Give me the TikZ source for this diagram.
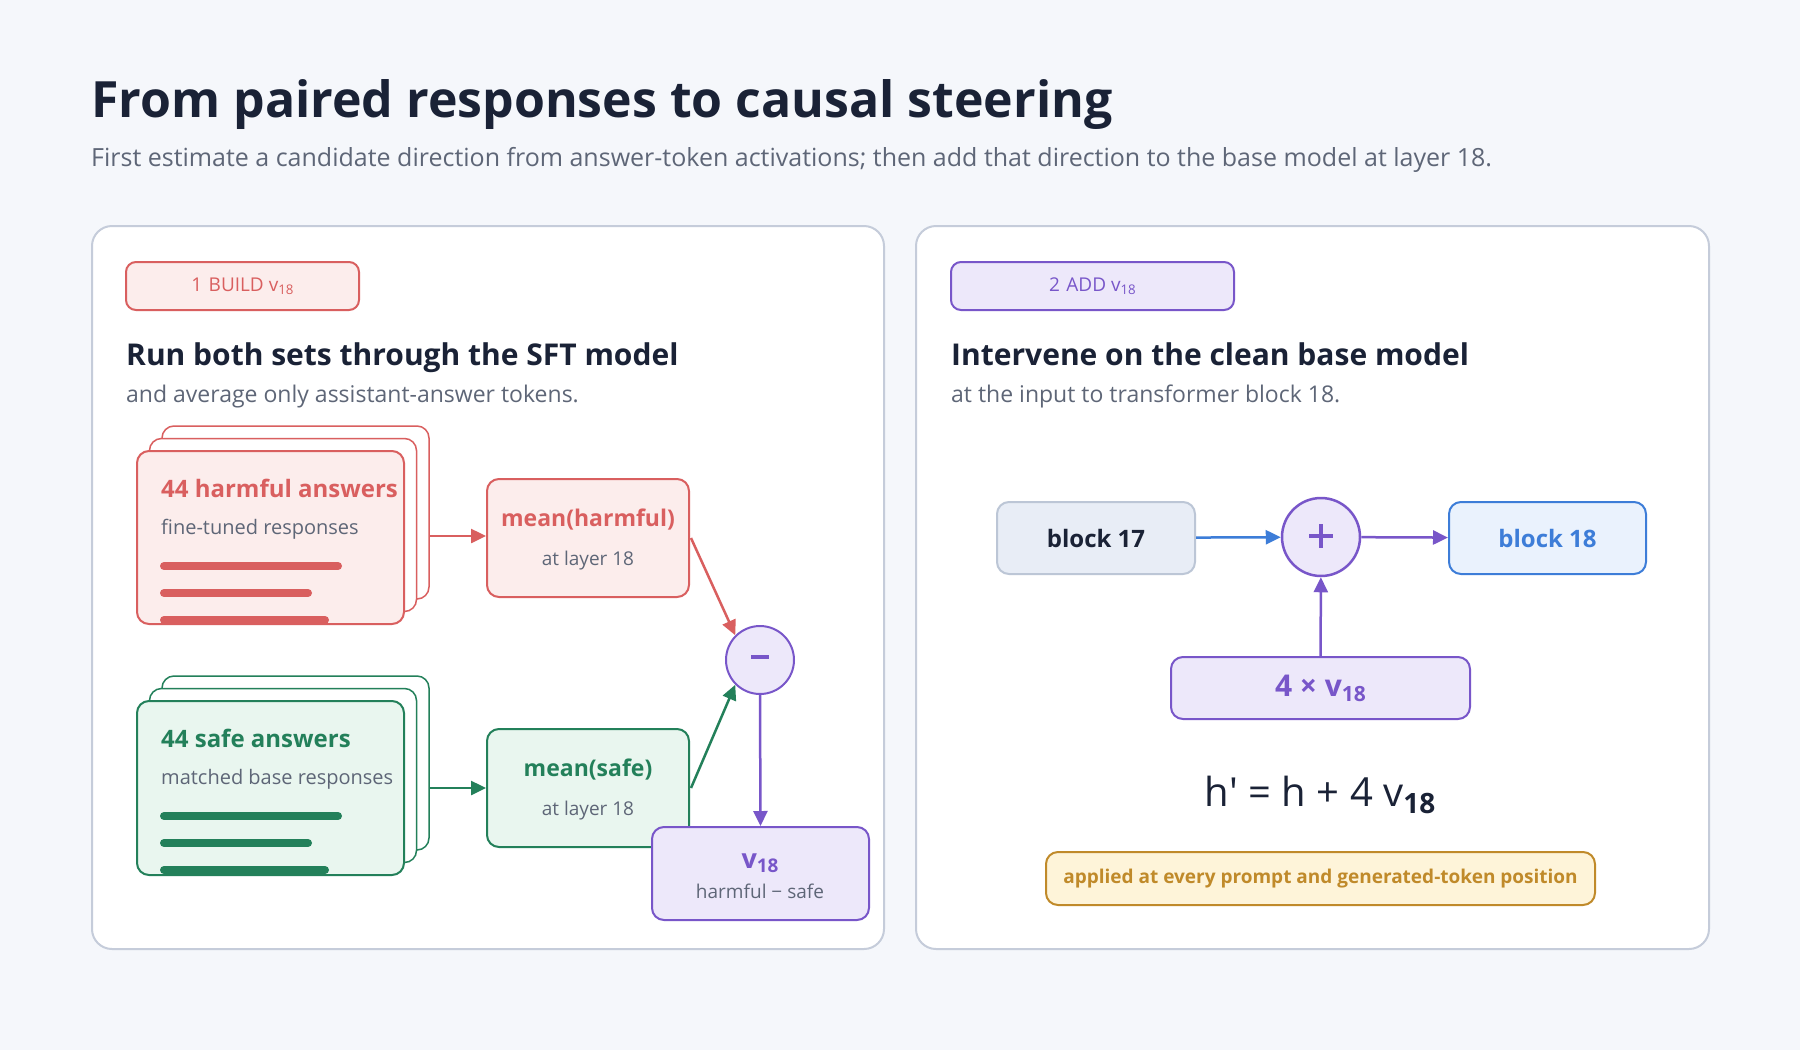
\documentclass[tikz,border=0pt]{standalone}
\usepackage{fontspec}
\setmainfont{Open Sans}
\usetikzlibrary{arrows.meta}
\definecolor{bg}{HTML}{F5F7FB}
\definecolor{pborder}{HTML}{C5CCDA}
\definecolor{dark}{HTML}{1A2236}
\definecolor{gray}{HTML}{5E6677}
\definecolor{red}{HTML}{D95F5F}
\definecolor{redf}{HTML}{FCEDEC}
\definecolor{grn}{HTML}{23805A}
\definecolor{grnf}{HTML}{E9F6EF}
\definecolor{pur}{HTML}{7856C9}
\definecolor{purf}{HTML}{EDE8FA}
\definecolor{b17}{HTML}{E8EDF6}
\definecolor{b17b}{HTML}{BCC6D6}
\definecolor{blu}{HTML}{3D7DD8}
\definecolor{bluf}{HTML}{EAF2FD}
\definecolor{yel}{HTML}{FEF4D9}
\definecolor{yelb}{HTML}{C08A2A}
\newcommand{\vsub}[1]{\raisebox{-0.3ex}{\scalebox{0.7}{#1}}}
\newcommand{\fs}[1]{\fontsize{#1}{#1}\selectfont}
\tikzset{
  panel/.style={draw=pborder,fill=white,line width=2pt,rounded corners=20pt},
  box/.style={line width=2pt,rounded corners=12pt,inner sep=0pt},
  arr/.style={line width=2.5pt,-{Triangle[length=15pt,width=14pt]}},
  bar/.style={line width=8pt,line cap=round},
  txt/.style={inner sep=0pt,anchor=base west},
}
\begin{document}
\begin{tikzpicture}[x=1pt,y=-1pt]
\fill[bg] (0,0) rectangle (1800,1050);
\useasboundingbox (0,0) rectangle (1800,1050);
\node[txt,text=dark,font=\fs{50}\bfseries] (title) at (91,117) {From paired responses to causal steering};
\node[txt,text=gray,font=\fs{25}] (sub) at (91,166) {First estimate a candidate direction from answer-token activations; then add that direction to the base model at layer 18.};
% panels
\draw[panel] (92,226) rectangle (884,949);
\draw[panel] (916,226) rectangle (1709,949);
% badges
\node[box,draw=red,fill=redf,minimum width=233pt,minimum height=48pt,rounded corners=10pt,text=red,font=\fs{19}] (b1) at (242.5,286) {1\,\,BUILD v\vsub{18}};
\node[box,draw=pur,fill=purf,minimum width=283pt,minimum height=48pt,rounded corners=10pt,text=pur,font=\fs{19}] (b2) at (1092.5,286) {2\,\,ADD v\vsub{18}};
\node[txt,text=dark,font=\fs{30}\bfseries] (h1) at (126,365) {Run both sets through the SFT model};
\node[txt,text=gray,font=\fs{23}] (s1) at (126,402) {and average only assistant-answer tokens.};
\node[txt,text=dark,font=\fs{30}\bfseries] (h2) at (951,365) {Intervene on the clean base model};
\node[txt,text=gray,font=\fs{23}] (s2) at (951,402) {at the input to transformer block 18.};
% harmful stack
\foreach \o in {25,12.5}{\draw[red,fill=white,line width=1.5pt,rounded corners=12pt] (137+\o,451-\o) rectangle (404+\o,624-\o);}
\draw[red,fill=redf,line width=2pt,rounded corners=12pt] (137,451) rectangle (404,624);
\node[box,minimum width=267pt,minimum height=173pt] (hc) at (270.5,537.5) {};
\node[txt,text=red,font=\fs{24}\bfseries] (ht) at (161,497) {44 harmful answers};
\node[txt,text=gray,font=\fs{20}] (hs) at (161,534) {fine-tuned responses};
\draw[bar,red] (164,566) -- (338,566);
\draw[bar,red] (164,593) -- (308,593);
\draw[bar,red] (164,620) -- (325,620);
% safe stack
\foreach \o in {25,12.5}{\draw[grn,fill=white,line width=1.5pt,rounded corners=12pt] (137+\o,701-\o) rectangle (404+\o,875-\o);}
\draw[grn,fill=grnf,line width=2pt,rounded corners=12pt] (137,701) rectangle (404,875);
\node[box,minimum width=267pt,minimum height=174pt] (sc) at (270.5,788) {};
\node[txt,text=grn,font=\fs{24}\bfseries] (st) at (161,747) {44 safe answers};
\node[txt,text=gray,font=\fs{20}] (ss) at (161,784) {matched base responses};
\draw[bar,grn] (164,816) -- (338,816);
\draw[bar,grn] (164,843) -- (308,843);
\draw[bar,grn] (164,870) -- (325,870);
% means
\node[box,draw=red,fill=redf,minimum width=202pt,minimum height=118pt] (mh) at (588,538) {};
\node[text=red,font=\fs{23}\bfseries] at (588,520) {mean(harmful)};
\node[text=gray,font=\fs{19}] at (588,561) {at layer 18};
\node[box,draw=grn,fill=grnf,minimum width=202pt,minimum height=118pt] (ms) at (588,788) {};
\node[text=grn,font=\fs{23}\bfseries] at (588,770) {mean(safe)};
\node[text=gray,font=\fs{19}] at (588,811) {at layer 18};
% minus
\node[circle,draw=pur,fill=purf,line width=2pt,minimum size=68pt,inner sep=0pt] (mi) at (760,660) {};
\draw[pur,line width=3.5pt] (751,657) -- (769,657);
% v18
\node[box,draw=pur,fill=purf,minimum width=217pt,minimum height=93pt] (v) at (760.5,873.5) {};
\node[text=pur,font=\fs{27}\bfseries] at (760,863) {v\vsub{18}};
\node[text=gray,font=\fs{19}] at (760,891) {harmful − safe};
% arrows left
\draw[arr,red] (429,536) -- (mh.west |- 0,536);
\draw[arr,grn] (429,788) -- (ms.west |- 0,788);
\draw[arr,red] (691,538) -- (mi.north west);
\draw[arr,grn] (691,788) -- (mi.south west);
\draw[arr,pur] (mi.south) -- (v.north);
% right diagram
\node[box,draw=b17b,fill=b17,minimum width=198pt,minimum height=72pt,text=dark,font=\fs{24}\bfseries] (k17) at (1096,538) {block 17};
\node[circle,draw=pur,fill=purf,line width=2.5pt,minimum size=78pt,inner sep=0pt] (pl) at (1321,537) {};
\draw[pur,line width=3.5pt] (1309,536) -- (1333,536) (1321,524) -- (1321,548);
\node[box,draw=blu,fill=bluf,minimum width=197pt,minimum height=72pt,text=blu,font=\fs{24}\bfseries] (k18) at (1547.5,538) {block 18};
\node[box,draw=pur,fill=purf,minimum width=299pt,minimum height=62pt,text=pur,font=\fs{30}\bfseries] (fx) at (1320.5,688) {4 × v\vsub{18}};
\draw[arr,blu] (k17) -- (pl);
\draw[arr,pur] (pl) -- (k18);
\draw[arr,pur] (fx) -- (pl);
\node[text=dark,font=\fs{40}] (eq) at (1320,795) {h′ = h + 4 v\vsub{\bfseries 18}};
\node[box,draw=yelb,fill=yel,minimum width=549pt,minimum height=53pt,text=yelb,font=\fs{19}\bfseries] (ap) at (1320.5,878.5) {applied at every prompt and generated-token position};
\end{tikzpicture}
\end{document}
